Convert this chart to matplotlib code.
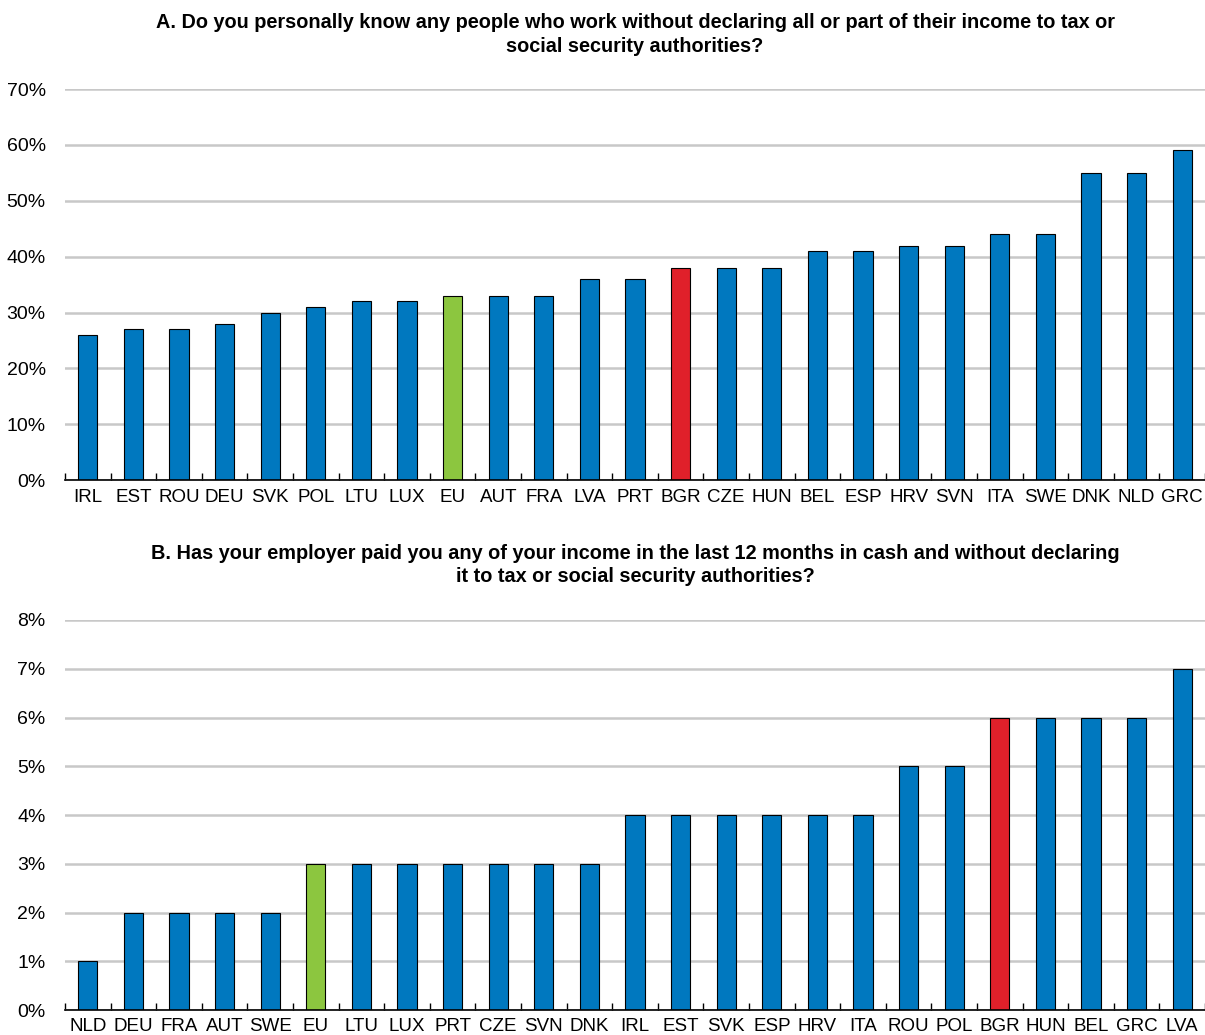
import matplotlib.pyplot as plt
import numpy as np
from matplotlib.ticker import FuncFormatter, MultipleLocator

plt.rcParams['font.family'] = ['Liberation Sans Narrow', 'Liberation Sans', 'DejaVu Sans']

# Panel A data
countries_a = ["IRL", "EST", "ROU", "DEU", "SVK", "POL", "LTU", "LUX", "EU", "AUT",
               "FRA", "LVA", "PRT", "BGR", "CZE", "HUN", "BEL", "ESP", "HRV", "SVN",
               "ITA", "SWE", "DNK", "NLD", "GRC"]
values_a = [26, 27, 27, 28, 30, 31, 32, 32, 33, 33,
            33, 36, 36, 38, 38, 38, 41, 41, 42, 42,
            44, 44, 55, 55, 59]

# Panel B data
countries_b = ["NLD", "DEU", "FRA", "AUT", "SWE", "EU", "LTU", "LUX", "PRT", "CZE",
               "SVN", "DNK", "IRL", "EST", "SVK", "ESP", "HRV", "ITA", "ROU", "POL",
               "BGR", "HUN", "BEL", "GRC", "LVA"]
values_b = [1, 2, 2, 2, 2, 3, 3, 3, 3, 3,
            3, 3, 4, 4, 4, 4, 4, 4, 5, 5,
            6, 6, 6, 6, 7]

title_a = ("A. Do you personally know any people who work without declaring all or part of their income to tax or\n"
           "social security authorities?")
title_b = ("B. Has your employer paid you any of your income in the last 12 months in cash and without declaring\n"
           "it to tax or social security authorities?")

BLUE = "#0078BF"
GREEN = "#8CC63F"
RED = "#E0202A"


def bar_colors(labels):
    cols = []
    for c in labels:
        if c == "EU":
            cols.append(GREEN)
        elif c == "BGR":
            cols.append(RED)
        else:
            cols.append(BLUE)
    return cols


def draw_panel(ax, labels, values, title, ymax, step):
    x = np.arange(len(labels))
    ax.bar(x, values, width=0.42, color=bar_colors(labels), edgecolor="black",
           linewidth=0.8, zorder=3)
    ax.set_xlim(-0.5, len(labels) - 0.5)
    ax.set_ylim(0, ymax)
    ax.yaxis.set_major_locator(MultipleLocator(step))
    ax.yaxis.set_major_formatter(FuncFormatter(lambda v, p: f"{v:.0f}%"))
    ax.grid(axis="y", color="#c8c8c8", linewidth=1.8, zorder=0)
    ax.set_axisbelow(True)
    for s in ["top", "right", "left"]:
        ax.spines[s].set_visible(False)
    ax.spines["bottom"].set_linewidth(1.2)
    ax.spines["bottom"].set_zorder(4)
    ax.set_xticks(x)
    ax.set_xticklabels(labels, fontsize=13.5)
    ax.set_xticks(np.arange(len(labels) + 1) - 0.5, minor=True)
    ax.tick_params(axis="x", which="major", length=0, pad=6)
    ax.tick_params(axis="x", which="minor", direction="in", length=5, width=1)
    ax.tick_params(axis="y", length=0, labelsize=14, pad=14)
    ax.set_title(title, fontsize=14.3, fontweight="bold", linespacing=1.3, pad=27)


fig = plt.figure(figsize=(12.05, 10.35), dpi=100)
ax_a = fig.add_axes([0.054, 0.536, 0.946, 0.378])
ax_b = fig.add_axes([0.054, 0.024, 0.946, 0.377])

draw_panel(ax_a, countries_a, values_a, title_a, 70, 10)
draw_panel(ax_b, countries_b, values_b, title_b, 8, 1)

fig.savefig("out.png", dpi=100)
